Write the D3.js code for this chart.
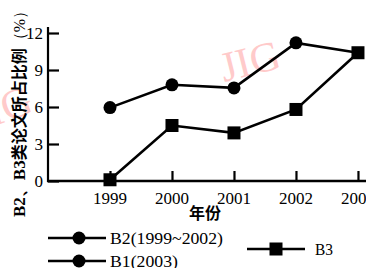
<!DOCTYPE html>
<html><head><meta charset="utf-8">
<script src="https://cdn.jsdelivr.net/npm/d3@7"></script>
<style>body{margin:0;background:#fff}svg{display:block}</style>
</head><body>
<svg id="c" width="366" height="268"></svg>
<script>
const years = [1999, 2000, 2001, 2002, 2003];
const b2b1 = [5.95, 7.8, 7.55, 11.2, 10.4];   // B2 (1999~2002) + B1 (2003)
const b3 = [0.1, 4.5, 3.9, 5.8, 10.4];
const yTicks = [0, 3, 6, 9, 12];
const xTicks = [1999, 2000, 2001, 2002, 2003];
const yLabelParts = ["B2、B3", "类论文所占比例", "（%）"];
const xLabel = "年份";
const legendItems = ["B2(1999~2002)", "B1(2003)", "B3"];

const svg = d3.select("#c");
const serif = "'Liberation Serif','Times New Roman',serif";
const cjk = "'Noto Sans CJK SC',sans-serif";

const x = d3.scaleLinear().domain([1998, 2003.065]).range([48, 362]);
const y = d3.scaleLinear().domain([0, 12]).range([181, 33]);

// watermarks
svg.append("text").attr("transform", "translate(224,82) rotate(-14)")
  .attr("font-family", serif).attr("font-size", 42).attr("fill", "#ffcaca").text("JIG");
svg.append("text").attr("transform", "translate(-22,132) rotate(-20)")
  .attr("font-family", serif).attr("font-size", 42).attr("fill", "#ffcaca").text("JIG");

// y axis
const ya = svg.append("g").attr("transform", "translate(48,0)")
  .call(d3.axisRight(y).tickValues(yTicks).tickSize(11).tickFormat(""));
ya.select(".domain").remove();
ya.selectAll("line").attr("stroke", "#000").attr("stroke-width", 2.2);
svg.append("line").attr("x1", 48).attr("x2", 48).attr("y1", 27).attr("y2", 182)
  .attr("stroke", "#000").attr("stroke-width", 2.2);
svg.selectAll(".ytl").data(yTicks).join("text").attr("class", "ytl")
  .attr("x", 43).attr("y", d => y(d)).attr("dy", "0.36em").attr("text-anchor", "end")
  .attr("font-family", serif).attr("font-size", 17).text(d => d);

// x axis
const xa = svg.append("g").attr("transform", "translate(0,181)")
  .call(d3.axisTop(x).tickValues(xTicks).tickSize(10).tickFormat(""));
xa.select(".domain").remove();
xa.selectAll("line").attr("stroke", "#000").attr("stroke-width", 2.2);
svg.append("line").attr("x1", 47).attr("x2", 366).attr("y1", 181).attr("y2", 181)
  .attr("stroke", "#000").attr("stroke-width", 2.4);
svg.selectAll(".xtl").data(xTicks).join("text").attr("class", "xtl")
  .attr("x", d => x(d)).attr("y", 204).attr("text-anchor", "middle")
  .attr("font-family", serif).attr("font-size", 17).text(d => d);

svg.append("text").attr("x", 205).attr("y", 219).attr("text-anchor", "middle")
  .attr("font-family", cjk).attr("font-weight", "bold").attr("font-size", 16).text(xLabel);
const yl = svg.append("text").attr("transform", "translate(25,110) rotate(-90)").attr("text-anchor", "middle")
  .attr("font-size", 16).attr("textLength", 214).attr("lengthAdjust", "spacingAndGlyphs");
yl.append("tspan").attr("font-family", serif).attr("font-weight", "bold").attr("font-size", 17).text(yLabelParts[0]);
yl.append("tspan").attr("font-family", cjk).attr("font-weight", "bold").text(yLabelParts[1]);
yl.append("tspan").attr("font-family", serif).attr("font-size", 16).text(yLabelParts[2]);

// lines
const line = d3.line().x((d, i) => x(years[i])).y(d => y(d));
svg.append("path").datum(b2b1).attr("d", line).attr("fill", "none")
  .attr("stroke", "#000").attr("stroke-width", 2.6);
svg.append("path").datum(b3).attr("d", line).attr("fill", "none")
  .attr("stroke", "#000").attr("stroke-width", 2.6);
svg.selectAll(".pc").data(b2b1.slice(0, 4)).join("circle").attr("class", "pc")
  .attr("cx", (d, i) => x(years[i])).attr("cy", d => y(d)).attr("r", 6.5).attr("fill", "#000");
svg.selectAll(".ps").data(b3).join("rect").attr("class", "ps")
  .attr("x", (d, i) => x(years[i]) - 6.5).attr("y", d => y(d) - 6.5)
  .attr("width", 13).attr("height", 13).attr("fill", "#000");

// legend
const lg = [{t: legendItems[0], y: 238, m: "c", x0: 48, x1: 106, mx: 79, tx: 110, w: 113},
            {t: legendItems[1], y: 261, m: "c", x0: 48, x1: 106, mx: 79, tx: 110, w: 68},
            {t: legendItems[2], y: 249, m: "s", x0: 247, x1: 305, mx: 276, tx: 315, w: 18}];
lg.forEach(d => {
  svg.append("line").attr("x1", d.x0).attr("x2", d.x1).attr("y1", d.y).attr("y2", d.y)
    .attr("stroke", "#000").attr("stroke-width", 2.6);
  if (d.m === "c") svg.append("circle").attr("cx", d.mx).attr("cy", d.y).attr("r", 6.5).attr("fill", "#000");
  else svg.append("rect").attr("x", d.mx - 6.5).attr("y", d.y - 6.5).attr("width", 13).attr("height", 13).attr("fill", "#000");
  svg.append("text").attr("x", d.tx).attr("y", d.y).attr("dy", "0.35em")
    .attr("font-family", serif).attr("font-size", 17)
    .attr("textLength", d.w).attr("lengthAdjust", "spacingAndGlyphs").text(d.t);
});
</script>
</body></html>
